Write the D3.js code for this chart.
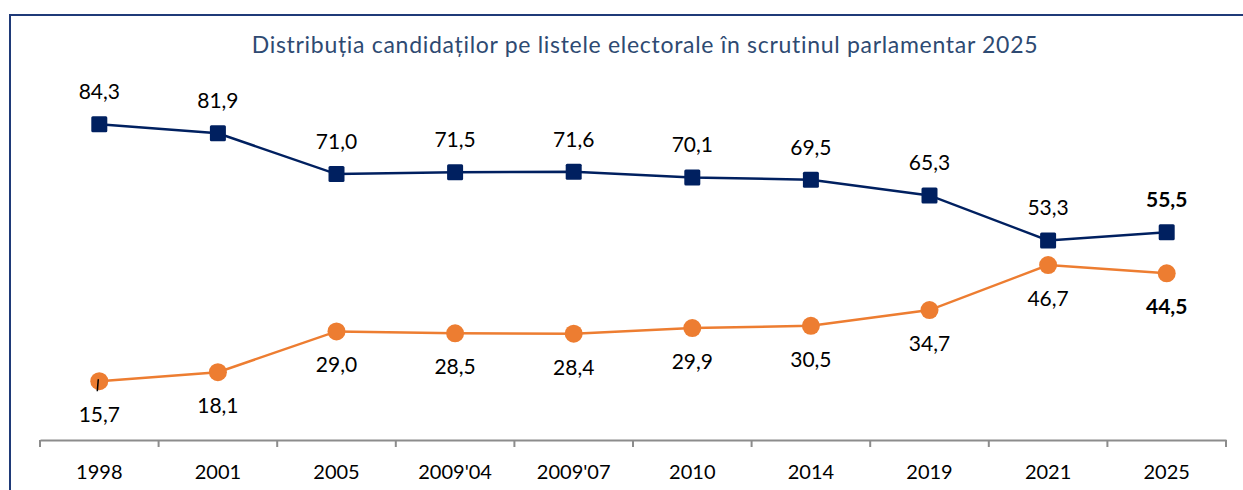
<!DOCTYPE html>
<html><head><meta charset="utf-8">
<script src="https://cdn.jsdelivr.net/npm/d3@7"></script>
<style>body{margin:0;background:#fff;}svg{display:block;}</style>
</head><body>
<svg id="chart" width="1243" height="490"></svg>
<script>
const categories = ["1998","2001","2005","2009'04","2009'07","2010","2014","2019","2021","2025"];
const seriesBlue = [84.3,81.9,71.0,71.5,71.6,70.1,69.5,65.3,53.3,55.5];
const seriesOrange = [15.7,18.1,29.0,28.5,28.4,29.9,30.5,34.7,46.7,44.5];
const title = "Distribuția candidaților pe listele electorale în scrutinul parlamentar 2025";

const svg = d3.select("#chart");
const font = "Lato, 'Open Sans', sans-serif";
const blue = "#002060", orange = "#ED7D31";

// frame
svg.append("path").attr("d","M10,490 L10,15 L1243,15").attr("fill","none").attr("stroke","#1F3A78").attr("stroke-width",2);

svg.append("text").attr("x",645).attr("y",53).attr("text-anchor","middle")
  .attr("font-family",font).attr("font-size",23).attr("letter-spacing","0.7px")
  .attr("fill","#2E4A72").text(title);

const x = d3.scaleBand().domain(categories).range([40,1226]);
const y = d3.scaleLinear().domain([0,100]).range([440,65.5]);
const cx = d => x(d) + x.bandwidth()/2;

const axis = svg.append("g").attr("transform","translate(0,440)")
  .call(d3.axisBottom(x).tickSize(0).tickPadding(25).tickSizeOuter(0));
axis.select(".domain").attr("stroke","#8c8c8c").attr("stroke-width",2);
axis.selectAll("text").attr("font-family",font).attr("font-size",20).attr("fill","#000");
// boundary ticks
const bounds = categories.map(c => x(c)).concat([x.range()[1]]);
svg.append("g").selectAll("line").data(bounds).join("line")
  .attr("x1",d=>d).attr("x2",d=>d).attr("y1",440).attr("y2",447)
  .attr("stroke","#8c8c8c").attr("stroke-width",2);

const line = d3.line().x((d,i)=>cx(categories[i])).y(d=>y(d));

svg.append("path").datum(seriesOrange).attr("d",line).attr("fill","none").attr("stroke",orange).attr("stroke-width",2.5);
svg.append("path").datum(seriesBlue).attr("d",line).attr("fill","none").attr("stroke",blue).attr("stroke-width",2.5);

svg.append("g").selectAll("rect").data(seriesBlue).join("rect")
  .attr("x",(d,i)=>cx(categories[i])-8).attr("y",d=>y(d)-8).attr("width",16).attr("height",16)
  .attr("rx",1.5).attr("fill",blue);
svg.append("g").selectAll("circle").data(seriesOrange).join("circle")
  .attr("cx",(d,i)=>cx(categories[i])).attr("cy",d=>y(d)).attr("r",9).attr("fill",orange);

// leader line for first orange label
svg.append("line").attr("x1",cx(categories[0])-1).attr("x2",cx(categories[0])-2)
  .attr("y1",y(seriesOrange[0])-2).attr("y2",y(seriesOrange[0])+10).attr("stroke","#000").attr("stroke-width",1.5);

const fmt = v => v.toFixed(1).replace(".",",");
const last = categories.length-1;
svg.append("g").selectAll("text").data(seriesBlue).join("text")
  .attr("x",(d,i)=>cx(categories[i])).attr("y",d=>y(d)-25).attr("text-anchor","middle")
  .attr("font-family",font).attr("font-size",21).attr("font-weight",(d,i)=>i===last?"bold":"normal")
  .attr("fill","#000").text(fmt);
svg.append("g").selectAll("text").data(seriesOrange).join("text")
  .attr("x",(d,i)=>cx(categories[i])).attr("y",d=>y(d)+41).attr("text-anchor","middle")
  .attr("font-family",font).attr("font-size",21).attr("font-weight",(d,i)=>i===last?"bold":"normal")
  .attr("fill","#000").text(fmt);
</script>
</body></html>
